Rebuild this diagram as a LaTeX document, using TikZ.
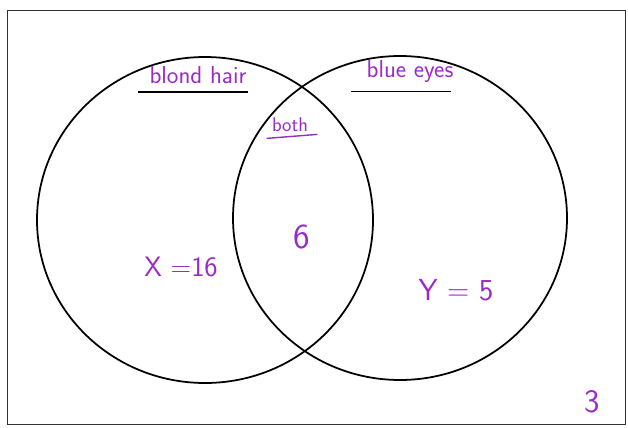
\documentclass[tikz,border=0pt]{standalone}
\usetikzlibrary{calc}
\definecolor{InkClr}{rgb}{0.6,0.17,0.78}
\definecolor{FrameClr}{rgb}{0.2,0.2,0.2}

\begin{document}
\begin{tikzpicture}[x=0.03cm,y=-0.03cm,
  ink/.style={text=InkClr,inner sep=1pt,font=\sffamily\fontsize{#1}{#1}\selectfont},
  ink/.default=21,
  setline/.style={line width=1.5pt,black},
  underline/.style={line width=1.2pt,black}]
\useasboundingbox (0,0) rectangle (628,427);
\draw[FrameClr,line width=0.7pt] (7,10) rectangle (625,424);

% The two sets.
\coordinate (L) at (205,220);
\coordinate (R) at (400,218);
\draw[setline] (L) ellipse [x radius=168,y radius=163];
\draw[setline] (R) ellipse [x radius=167,y radius=162];

\node[ink] (blond) at (198,75) {blond hair};
\node[ink] (blue) at (410,71) {blue eyes};
\node[ink=17] (both) at (290,125) {both};
\draw[underline] ($(blond.south west)+(-10,7)$) -- ($(blond.south east)+(0,7)$);
\draw[underline] ($(blue.south west)+(-14,8)$) -- ($(blue.south east)+(-4,8)$);
\draw[underline,InkClr] ($(both.south west)+(-4,5)$) -- ($(both.south east)+(8,1)$);

\node[ink=30] (inter) at (302,237) {6};
\node[ink=24] (xval) at (181,267) {X =16};
\node[ink=26] (yval) at (456,290) {Y = 5};
\node[ink=28] (page) at (592,402) {3};

\end{tikzpicture}
\end{document}
